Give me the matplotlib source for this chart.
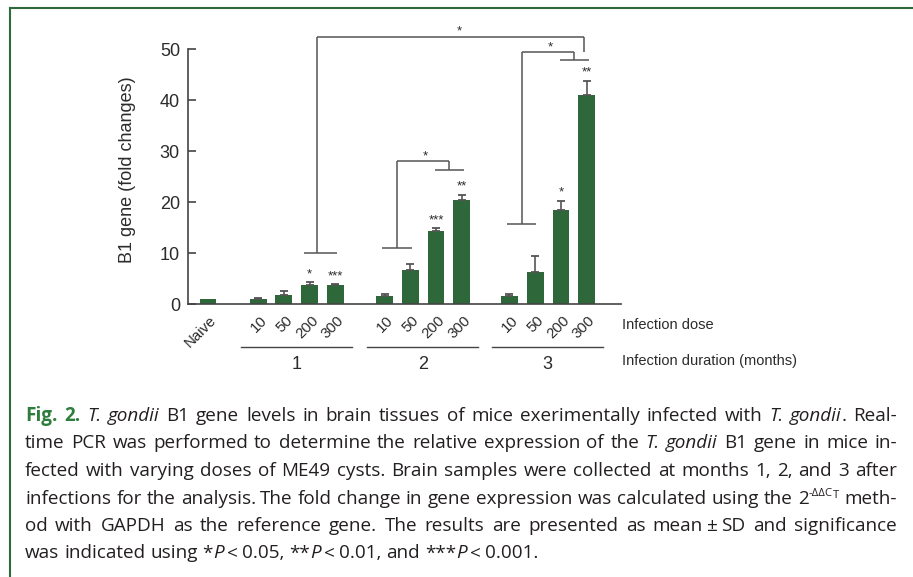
import matplotlib
matplotlib.use('Agg')
import matplotlib.pyplot as plt
from matplotlib.lines import Line2D
from matplotlib.transforms import blended_transform_factory

W, H, DPI = 913, 577, 100

# ---------------- data ----------------
naive_label = 'Naive'
naive_mean = 1.0
dose_labels = ['10', '50', '200', '300']
duration_labels = ['1', '2', '3']
mean_m1 = [1.0, 1.8, 3.8, 3.8]
sd_m1 = [0.3, 0.85, 0.5, 0.2]
stars_m1 = ['', '', '*', '***']
mean_m2 = [1.6, 6.7, 14.4, 20.4]
sd_m2 = [0.45, 1.1, 0.45, 1.1]
stars_m2 = ['', '', '***', '**']
mean_m3 = [1.6, 6.3, 18.5, 41.0]
sd_m3 = [0.45, 3.1, 1.8, 2.8]
stars_m3 = ['', '', '*', '**']
y_ticks = [0, 10, 20, 30, 40, 50]
y_label = 'B1 gene (fold changes)'
row_labels = ['Infection dose', 'Infection duration (months)']

# bracket levels (fold change units)
bracket_m1_low = 10.0
bracket_m2_levels = (11.0, 26.3, 28.0)   # left span, right span, top
bracket_m3_levels = (15.7, 47.8, 49.4)
bracket_top_level = 52.4
bracket_stars = ['*', '*', '*']

caption_lines = [
    "[Fig.] [2.] {T.} {gondii} B1 gene levels in brain tissues of mice exerimentally infected with {T.} {gondii}. Real-",
    "time PCR was performed to determine the relative expression of the {T.} {gondii} B1 gene in mice in-",
    "fected with varying doses of ME49 cysts. Brain samples were collected at months 1, 2, and 3 after",
    "infections for the analysis.¦The fold change in gene expression was calculated using the 2^-ΔΔC^`T` meth-",
    "od with GAPDH as the reference gene. The results are presented as mean¦±¦SD and significance",
    "was indicated using *{P}¦<¦0.05, **{P}¦<¦0.01, and ***{P}¦<¦0.001.",
]

# ---------------- style ----------------
bar_c = '#2e673a'
green = '#2e6b3a'
axis_c = '#444444'
txt_c = '#2b2b2b'
err_c = '#555555'
br_c = '#555555'
plt.rcParams['font.family'] = ['Liberation Sans', 'DejaVu Sans']

fig = plt.figure(figsize=(W / DPI, H / DPI), dpi=DPI, facecolor='white')

def fx(x):
    return x / W

def fy(y):
    return 1 - y / H

# axes placement (pixels)
ax_left, ax_right, ax_bottom, ax_top = 188, 621, 304.3, 18.4
ax = fig.add_axes([fx(ax_left), fy(ax_bottom), (ax_right - ax_left) / W, (ax_bottom - ax_top) / H])
ax.set_facecolor('none')

# positions (layout)
bar_w = 0.65
x_naive = 0.0
starts = [1.95, 6.87, 11.73]
xs = [[s + i for i in range(len(dose_labels))] for s in starts]
means = [mean_m1, mean_m2, mean_m3]
sds = [sd_m1, sd_m2, sd_m3]
stars = [stars_m1, stars_m2, stars_m3]

ax.bar([x_naive], [naive_mean], width=bar_w, color=bar_c, zorder=2)
for gx, gm, gs in zip(xs, means, sds):
    ax.bar(gx, gm, width=bar_w, color=bar_c, zorder=2)
    ax.errorbar(gx, gm, yerr=[[0] * len(gs), gs], fmt='none', ecolor=err_c,
                elinewidth=1.2, capsize=3, capthick=1.3, zorder=3)

ax.set_xlim(-0.78, 16.07)
ax.set_ylim(0, 56)
for s in ['top', 'right']:
    ax.spines[s].set_visible(False)
ax.spines['left'].set_bounds(0, 50)
for s in ['left', 'bottom']:
    ax.spines[s].set_color(axis_c)
    ax.spines[s].set_linewidth(1.2)
ax.set_yticks(y_ticks)
ax.tick_params(axis='y', direction='in', length=5.8, width=1.2, color=axis_c,
               pad=5.8, labelsize=13, labelcolor=txt_c)
ax.set_xticks([])

# significance stars above bars
for gx, gm, gs, st in zip(xs, means, sds, stars):
    for x, m, s, label in zip(gx, gm, gs, st):
        if label:
            ax.annotate(label, (x, m + s), xytext=(0, 3.5), textcoords='offset points',
                        ha='center', va='baseline', fontsize=9.5, color=txt_c)

# brackets
def seg(xa, ya, xb, yb):
    ax.plot([xa, xb], [ya, yb], color=br_c, lw=1.1, clip_on=False,
            solid_capstyle='butt', zorder=4)

def star(x, y, label):
    ax.annotate(label, (x, y), xytext=(0, 1.5), textcoords='offset points',
                ha='center', va='baseline', fontsize=9.5, color=txt_c)

d = 0.05
for gx, (low_l, low_r, top), lab in zip([xs[1], xs[2]], [bracket_m2_levels, bracket_m3_levels],
                                        bracket_stars[:2]):
    ml = (gx[0] + gx[1]) / 2
    mr = (gx[2] + gx[3]) / 2
    seg(gx[0] - d - 0.05, low_l, gx[1] + d, low_l)
    seg(ml, low_l, ml, top)
    seg(ml, top, mr, top)
    seg(mr, top, mr, low_r)
    seg(gx[2] - d, low_r, gx[3] + d + 0.05, low_r)
    star((ml + mr) / 2 + 0.1, top, lab)

g1 = xs[0]
m1 = (g1[2] + g1[3]) / 2 - 0.2
seg(g1[2] - d - 0.15, bracket_m1_low, g1[3] + d, bracket_m1_low)
seg(m1, bracket_m1_low, m1, bracket_top_level)
right_end = xs[2][3] - 0.1
seg(m1, bracket_top_level, right_end, bracket_top_level)
seg(right_end, bracket_top_level, right_end, bracket_m3_levels[2])
star((m1 + right_end) / 2 + 0.35, bracket_top_level, bracket_stars[2])

# ---------------- below-axis labels ----------------
tr = blended_transform_factory(ax.transData, fig.transFigure)
lab_off = 0.25
lab_y = fy(318)
fig.text(x_naive + lab_off, lab_y, naive_label, transform=tr, rotation=45,
         rotation_mode='anchor', ha='right', va='center', fontsize=10.8, color=txt_c)
for gx in xs:
    for x, lab in zip(gx, dose_labels):
        fig.text(x + lab_off, lab_y, lab, transform=tr, rotation=45,
                 rotation_mode='anchor', ha='right', va='center', fontsize=10.8, color=txt_c)
for gx, lab in zip(xs, duration_labels):
    x0, x1 = gx[0] - 0.68, gx[-1] + 0.65
    fig.add_artist(Line2D([x0, x1], [fy(346.7), fy(346.7)], transform=tr,
                          color=axis_c, lw=1.0))
    fig.text((x0 + x1) / 2, fy(364.5), lab, transform=tr, ha='center', va='center',
             fontsize=13, color=txt_c)

fig.text(fx(621.7), fy(325), row_labels[0], ha='left', va='center', fontsize=10.5, color=txt_c)
fig.text(fx(621.7), fy(361), row_labels[1], ha='left', va='center', fontsize=10.5, color=txt_c)
fig.text(fx(128), fy(170), y_label, rotation=90, ha='center', va='center',
         fontsize=13, color=txt_c)

# ---------------- frame ----------------
fig.add_artist(Line2D([fx(9.5), fx(913)], [fy(8), fy(8)], color=green, lw=1.5))
fig.add_artist(Line2D([fx(9.5), fx(9.5)], [fy(8), fy(577)], color=green, lw=1.5))

# ---------------- caption (justified) ----------------
cap_family = ['Open Sans', 'DejaVu Sans']
cap_txt = '#231f20'
cap_green = '#2e7d3c'
renderer = fig.canvas.get_renderer()

def parse(line):
    words, runs, buf = [], [], ''
    st = {'i': False, 'b': False, 'sup': False, 'ss': False}
    toggles = {'{': 'i', '}': 'i', '[': 'b', ']': 'b', '^': 'sup', '`': 'ss'}

    def cur():
        if st['ss']:
            return 'ss'
        if st['sup']:
            return 'sup'
        if st['b']:
            return 'b'
        if st['i']:
            return 'i'
        return 'n'
    for ch in line + ' ':
        if ch in toggles or ch in ' ¦':
            if buf:
                runs.append((buf, cur()))
                buf = ''
            if ch in toggles:
                k = toggles[ch]
                st[k] = not st[k]
            elif ch == '¦':
                runs.append(('', 'gap'))
            else:
                if runs:
                    words.append(runs)
                runs = []
        else:
            buf += ch
    return words

def props(style, fs):
    p = dict(family=cap_family, fontsize=fs, color=cap_txt)
    if style == 'i':
        p['style'] = 'italic'
    elif style == 'b':
        p.update(weight='bold', color=cap_green)
    elif style in ('sup', 'ss'):
        p['fontsize'] = fs * 0.6
    return p

def rwidth(text, style, fs):
    if style == 'gap':
        return fs * DPI / 72 * 0.2
    t = fig.text(0, 0, text, **props(style, fs))
    w = t.get_window_extent(renderer).width
    t.remove()
    return w

parsed = [parse(l) for l in caption_lines]
cap_left, cap_right = 25, 897
line_w = cap_right - cap_left

fs = 13.6
for _ in range(4):
    worst = 0
    for words in parsed:
        tot = sum(rwidth(t, s, fs) for w in words for t, s in w)
        need = tot + (len(words) - 1) * 0.18 * fs * DPI / 72
        worst = max(worst, need)
    if worst > line_w:
        fs *= line_w / worst
    else:
        break

space_nat = rwidth('a a', 'n', fs) - rwidth('aa', 'n', fs)
base0, lstep = 421, 27.5
for li, words in enumerate(parsed):
    wws = [[rwidth(t, s, fs) for t, s in w] for w in words]
    tot = sum(sum(x) for x in wws)
    if li < len(parsed) - 1:
        sp = (line_w - tot) / (len(words) - 1)
    else:
        sp = space_nat
    x = cap_left
    yb = base0 + li * lstep
    em = fs * DPI / 72
    for w, ww in zip(words, wws):
        for (t, s), rw in zip(w, ww):
            if s != 'gap':
                rise = 0.0
                if s == 'sup':
                    rise = 0.40 * em
                elif s == 'ss':
                    rise = 0.28 * em
                fig.text(fx(x), fy(yb - rise), t, ha='left', va='baseline', **props(s, fs))
            x += rw
        x += sp

fig.savefig('out.png', dpi=DPI, facecolor='white')
